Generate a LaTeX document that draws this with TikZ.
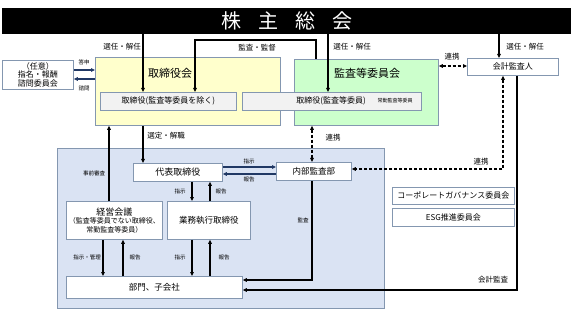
\documentclass[tikz,border=0pt]{standalone}
\usepackage{fontspec}
\setmainfont{Noto Sans CJK JP}
\usetikzlibrary{arrows.meta}
\definecolor{bord}{HTML}{8497B0}
\definecolor{yel}{HTML}{FFFFCC}
\definecolor{grn}{HTML}{CCFFCC}
\definecolor{blu}{HTML}{DAE3F3}
\definecolor{gry}{HTML}{F2F2F2}
\definecolor{navy}{HTML}{203864}
\newcommand{\fsz}[2]{\fontsize{#1}{#2}\selectfont}
\begin{document}
\begin{tikzpicture}[x=1pt,y=-1pt,
  box/.style={draw=bord, line width=0.8pt, fill=white, inner sep=0pt, anchor=north west, align=center, font=\fsz{8}{10}},
  arr/.style={line width=1.1pt, -{Triangle[length=4pt,width=3.6pt]}},
  barr/.style={arr, draw=navy},
  darr/.style={line width=1.1pt, dash pattern=on 3pt off 2pt, {Triangle[length=4pt,width=3.6pt]}-{Triangle[length=4pt,width=3.6pt]}},
  lab/.style={font=\fsz{5.5}{6}, inner sep=0pt},
  labm/.style={font=\fsz{7.5}{8}, inner sep=0pt}]
\useasboundingbox (0,0) rectangle (573,310);
\fill[white] (0,0) rectangle (573,310);

% coordinates
\coordinate (xa) at (143,0);
\coordinate (xb) at (195,0);
\coordinate (xc) at (316,0);
\coordinate (xd) at (328,0);
\coordinate (xe) at (499,0);
\coordinate (xf) at (503,0);
\coordinate (xg) at (517,0);
\coordinate (xh) at (312,0);
\coordinate (xi) at (109,0);
\coordinate (xj) at (192,0);
\coordinate (xk) at (210,0);
\coordinate (xl) at (103,0);
\coordinate (xm) at (123,0);
\coordinate (ya) at (0,70);
\coordinate (yb) at (0,79);
\coordinate (yc) at (0,167);
\coordinate (yd) at (0,174);
\coordinate (ye) at (0,169);
\coordinate (yf) at (0,280);
\coordinate (yg) at (0,290);
\coordinate (yh) at (0,66);
\coordinate (yi) at (0,40);

% banner
\node[fill=black, text=white, minimum width=569pt, minimum height=26pt, anchor=north west, inner sep=0pt, font=\fsz{20}{20}] (banner) at (2,8) {株\hspace{17pt}主\hspace{17pt}総\hspace{17pt}会};

% big blue area
\node[box, fill=blu, minimum width=327pt, minimum height=160pt] (bluebig) at (57,148) {};

% board boxes
\node[box, fill=yel, minimum width=185pt, minimum height=68pt] (yellow) at (95,57) {};
\node[box, fill=grn, minimum width=144pt, minimum height=66pt] (green) at (294,59) {};
\node[font=\fsz{11}{12}, inner sep=0pt] (ytitle) at (170,73) {取締役会};
\node[font=\fsz{11}{12}, inner sep=0pt] (gtitle) at (367,73) {監査等委員会};
\node[box, fill=gry, minimum width=136pt, minimum height=18pt] (dir1) at (100,92) {取締役(監査等委員を除く)};
\node[box, fill=gry, minimum width=179pt, minimum height=18pt] (dir2) at (242,92) {};
\node[font=\fsz{8}{10}, inner sep=0pt] (dir2t) at (331,101) {取締役(監査等委員)};
\node[font=\fsz{5}{6}, inner sep=0pt] (dir2s) at (395,101) {常勤監査等委員};

% other boxes
\node[box, minimum width=71pt, minimum height=29pt, font=\fsz{8}{8.6}] (nomi) at (2,60) {（任意）\\指名・報酬\\諮問委員会};
\node[box, minimum width=91pt, minimum height=17pt] (kaikei) at (467,58) {会計監査人};
\node[box, minimum width=89pt, minimum height=18pt, font=\fsz{9}{10}] (daihyo) at (133,163) {代表取締役};
\node[box, minimum width=75pt, minimum height=18pt, font=\fsz{8.5}{10}] (naibu) at (276,162) {内部監査部};
\node[box, minimum width=96pt, minimum height=38pt, font=\fsz{7}{8.5}] (keiei) at (66,201) {{\fsz{9}{10}経営会議}\\（監査等委員でない取締役、\\常勤監査等委員）};
\node[box, minimum width=83pt, minimum height=38pt, font=\fsz{8.5}{10}] (gyomu) at (167,201) {業務執行取締役};
\node[box, minimum width=176pt, minimum height=22pt, font=\fsz{8.5}{10}] (bumon) at (66,276) {部門、子会社};
\node[box, minimum width=122pt, minimum height=17pt] (cg) at (392,187) {コーポレートガバナンス委員会};
\node[box, minimum width=122pt, minimum height=18pt] (esg) at (392,208) {ESG推進委員会};

% connectors
\draw[arr] (banner.south -| xa) -- (dir1.north -| xa);
\draw[arr] (green.north -| xc) -- (xc |- yi) -| (dir1.north -| xb);
\draw[arr] (banner.south -| xd) -- (dir2.north -| xd);
\draw[arr] (banner.south -| xe) -- (kaikei.north -| xe);
\draw[barr] (nomi.east |- ya) -- (yellow.west |- ya);
\draw[barr] (yellow.west |- yb) -- (nomi.east |- yb);
\draw[darr] (green.east |- yh) -- (kaikei.west |- yh);
\draw[darr] (kaikei.south -| xf) |- (naibu.east |- ye);
\draw[arr] (kaikei.south -| xg) |- (bumon.east |- yg);
\draw[darr] (green.south -| xh) -- (naibu.north -| xh);
\draw[arr] (naibu.south -| xh) |- (bumon.east |- yf);
\draw[arr] (yellow.south -| xa) -- (daihyo.north -| xa);
\draw[arr] (keiei.north -| xi) -- (yellow.south -| xi);
\draw[barr] (daihyo.east |- yc) -- (naibu.west |- yc);
\draw[barr] (naibu.west |- yd) -- (daihyo.east |- yd);
\draw[arr] (daihyo.south -| xj) -- (gyomu.north -| xj);
\draw[arr] (gyomu.north -| xk) -- (daihyo.south -| xk);
\draw[arr] (keiei.south -| xl) -- (bumon.north -| xl);
\draw[arr] (bumon.north -| xm) -- (keiei.south -| xm);
\draw[arr] (gyomu.south -| xj) -- (bumon.north -| xj);
\draw[arr] (bumon.north -| xk) -- (gyomu.south -| xk);

% labels
\node[labm] (l1) at (122,47) {選任・解任};
\node[labm] (l2) at (257,48) {監査・監督};
\node[labm] (l3) at (352,47) {選任・解任};
\node[labm] (l4) at (525,47) {選任・解任};
\node[lab] (l5) at (84,62) {答申};
\node[lab] (l6) at (84,88) {諮問};
\node[labm] (l7) at (452,57) {連携};
\node[labm] (l8) at (166,136) {選定・解職};
\node[labm] (l9) at (333,138) {連携};
\node[lab] (l10) at (94,173) {事前審査};
\node[lab] (l11) at (249,161) {指示};
\node[lab] (l12) at (249,179) {報告};
\node[labm] (l13) at (481,162) {連携};
\node[lab] (l14) at (180,191) {指示};
\node[lab] (l15) at (221,191) {報告};
\node[lab] (l16) at (303,220) {監査};
\node[lab] (l17) at (87,257) {指示・管理};
\node[lab] (l18) at (135,257) {報告};
\node[lab] (l19) at (180,257) {指示};
\node[lab] (l20) at (224,257) {報告};
\node[labm] (l21) at (493,280) {会計監査};
\end{tikzpicture}
\end{document}
